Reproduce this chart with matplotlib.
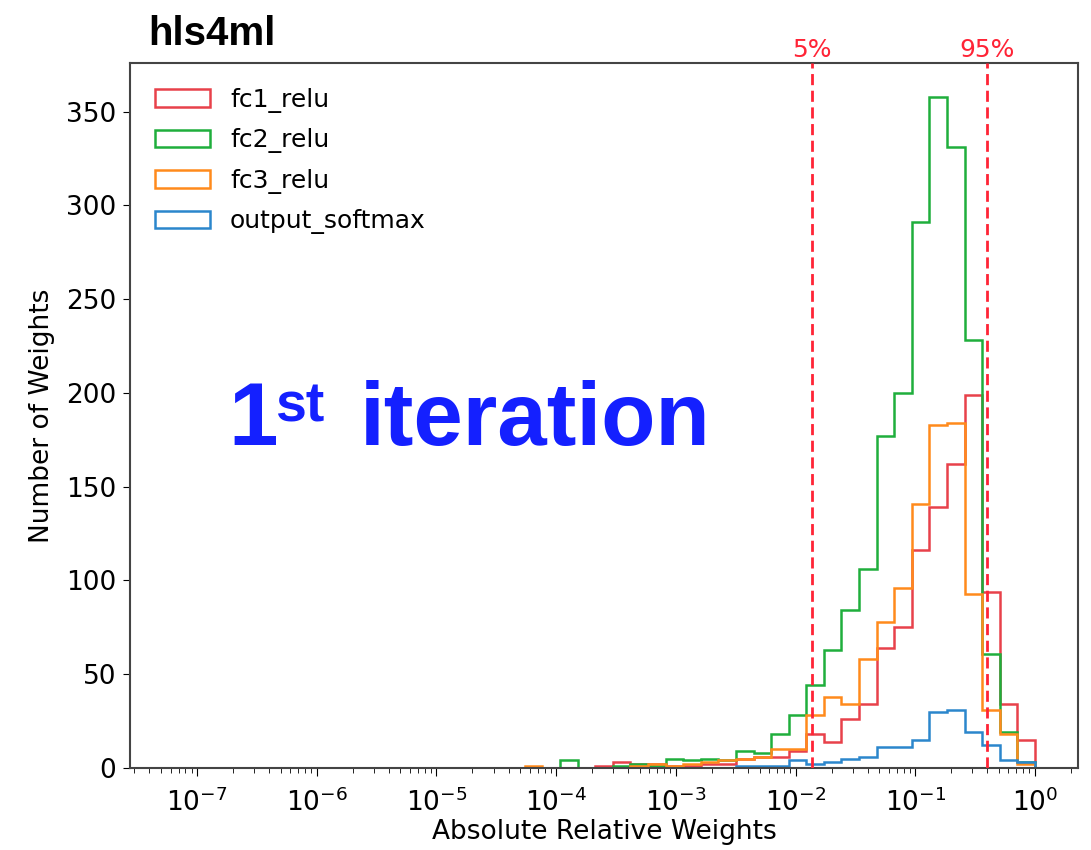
import matplotlib.pyplot as plt
import numpy as np

# histogram bins: 49 log-spaced bins between 10^-7.2 and 10^0
log_min = -7.2
log_max = 0.0
n_bins = 49

layers = ['fc1_relu', 'fc2_relu', 'fc3_relu', 'output_softmax']
colors = ['#e8414a', '#1fae3c', '#ff8a1c', '#2b86cc']

# counts per bin, bins 0..48
fc1_relu = [0] * 24 + [1, 3, 2, 2, 1, 1, 2, 2, 5, 6, 6, 9, 18, 14, 26, 34,
                       64, 75, 116, 139, 162, 199, 94, 34, 15]
fc2_relu = [0] * 22 + [4, 0, 0, 1, 2, 1, 5, 4, 5, 4, 9, 8, 18, 28, 44, 63, 84,
                       106, 177, 200, 291, 358, 331, 228, 61, 19, 3]
fc3_relu = [0] * 20 + [1, 0, 0, 0, 0, 0, 1, 2, 1, 2, 3, 4, 5, 6, 10, 10, 28,
                       38, 34, 58, 78, 96, 141, 183, 184, 93, 31, 18, 2]
output_softmax = [0] * 32 + [1, 1, 1, 4, 2, 3, 5, 6, 11, 11, 15, 30, 31, 19,
                             12, 4, 3]

# 5% and 95% quantiles
q05 = 0.0138
q95 = 0.401

# major x ticks
xticks = [1e-7, 1e-6, 1e-5, 1e-4, 1e-3, 1e-2, 1e-1, 1e0]

edges = np.logspace(log_min, log_max, n_bins + 1)
centers = np.sqrt(edges[:-1] * edges[1:])

fig = plt.figure(figsize=(10.91, 8.5), dpi=100)
ax = fig.add_axes([0.1192, 0.0965, 0.8689, 0.8294])

for name, counts, c in zip(layers, [fc1_relu, fc2_relu, fc3_relu, output_softmax], colors):
    ax.hist(centers, bins=edges, weights=counts, histtype='step',
            color=c, linewidth=1.8, label=name)

ax.set_xscale('log')
xlim = ax.get_xlim()
ax.set_xticks(xticks)
ax.set_xlim(xlim)

for q, lab in [(q05, '5%'), (q95, '95%')]:
    ax.axvline(q, color='#ff2436', linestyle='--', linewidth=2, dashes=(4, 2), zorder=3)
    ax.text(q, 1.009, lab, transform=ax.get_xaxis_transform(), color='#ff2436',
            fontsize=18, ha='center', va='baseline')

ax.set_xlabel('Absolute Relative Weights', fontsize=19, labelpad=1)
ax.set_ylabel('Number of Weights', fontsize=19, labelpad=8)
ax.tick_params(labelsize=19)
ax.tick_params(axis='x', which='major', length=6, pad=9)
ax.tick_params(axis='x', which='minor', length=3.5)
ax.tick_params(axis='y', length=5, pad=5)
for s in ax.spines.values():
    s.set_linewidth(1.5)
    s.set_color('#444444')

ax.legend(loc='upper left', frameon=False, fontsize=18, labelspacing=0.62,
          handlelength=2.2, borderaxespad=0.6)

# title and annotation
ax.text(0.019, 1.0255, 'hls4ml', transform=ax.transAxes, fontsize=29,
        fontweight='bold', family='Liberation Sans', ha='left', va='baseline')
blue = '#1420ff'
ax.text(0.1034, 0.458, '1', transform=ax.transAxes, fontsize=64, color=blue,
        fontweight='bold', family='Liberation Sans', ha='left', va='baseline')
ax.text(0.153, 0.491, 'st', transform=ax.transAxes, fontsize=40, color=blue,
        fontweight='bold', family='Liberation Sans', ha='left', va='baseline')
ax.text(0.2426, 0.458, 'iteration', transform=ax.transAxes, fontsize=64, color=blue,
        fontweight='bold', family='Liberation Sans', ha='left', va='baseline')

fig.savefig('out.png', dpi=100)
